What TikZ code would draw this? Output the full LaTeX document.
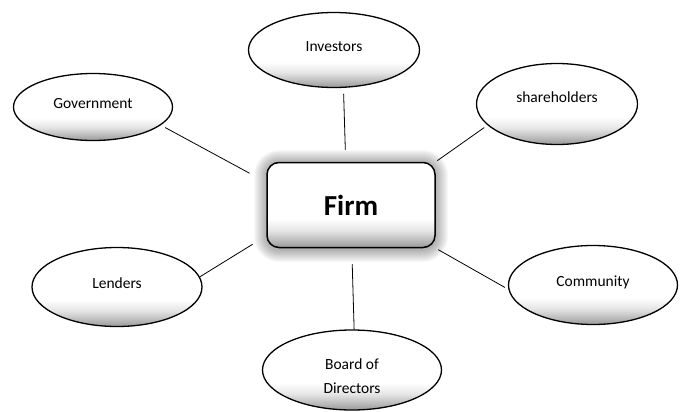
\documentclass[tikz,border=0pt]{standalone}
\usepackage{fontspec}
\setmainfont{Carlito}
\usepackage{tikz}
\usetikzlibrary{shapes.geometric}

\pgfdeclareverticalshading{bubble}{100bp}{color(0bp)=(gray!80); color(25bp)=(gray!80); color(29bp)=(gray!55); color(35bp)=(gray!20); color(42bp)=(white); color(100bp)=(white)}

\tikzset{
  party/.style={ellipse, draw=black, line width=1.3pt, shading=bubble, inner sep=0pt, text depth=7pt,
    font=\fontsize{15.5}{19}\selectfont},
  hub/.style={rectangle, rounded corners=12pt, draw=black, line width=1.5pt, shading=bubble,
    minimum width=168pt, minimum height=85pt, font=\bfseries\fontsize{29}{34}\selectfont},
  link/.style={draw=black, line width=0.8pt}
}

\begin{document}
\begin{tikzpicture}[x=1pt,y=-1pt]
\useasboundingbox (0,0) rectangle (683,412);

% glow round the firm
\foreach \g in {1,...,13} {
  \fill[black, opacity=0.028, rounded corners=12pt+\g pt] (267-\g,163-\g) rectangle (435+\g,249+\g);
}
\node[hub] (firm) at (351,205) {Firm};

\node[party, minimum width=171pt, minimum height=75pt] (inv) at (334,50) {Investors};
\node[party, minimum width=159pt, minimum height=67pt] (gov) at (93,107) {Government};
\node[party, minimum width=161pt, minimum height=81pt, text depth=14pt] (share) at (557,104) {shareholders};
\node[party, minimum width=170pt, minimum height=79pt] (lend) at (117,287) {Lenders};
\node[party, minimum width=169pt, minimum height=79pt] (comm) at (593,285) {Community};
\node[party, minimum width=179pt, minimum height=80pt, align=center, text height=46pt, text depth=0pt,
  font=\fontsize{15.5}{24}\selectfont] (board) at (352,370) {Board of\\Directors};

% links to the firm
\draw[link, shorten <=6pt, shorten >=12pt] (inv.-76) -- (firm.97);
\draw[link, shorten <=5pt, shorten >=19pt] (gov.-15) -- (firm.165);
\draw[link, shorten <=4pt, shorten >=2pt] (share.197) -- (firm.north east);
\draw[link, shorten >=16pt] (lend.7) -- (firm.200);
\draw[link, shorten <=3pt, shorten >=4pt] (firm.south east) -- (comm.183);
\draw[link, shorten <=16pt] (firm.-89) -- (board.87);
\end{tikzpicture}
\end{document}
